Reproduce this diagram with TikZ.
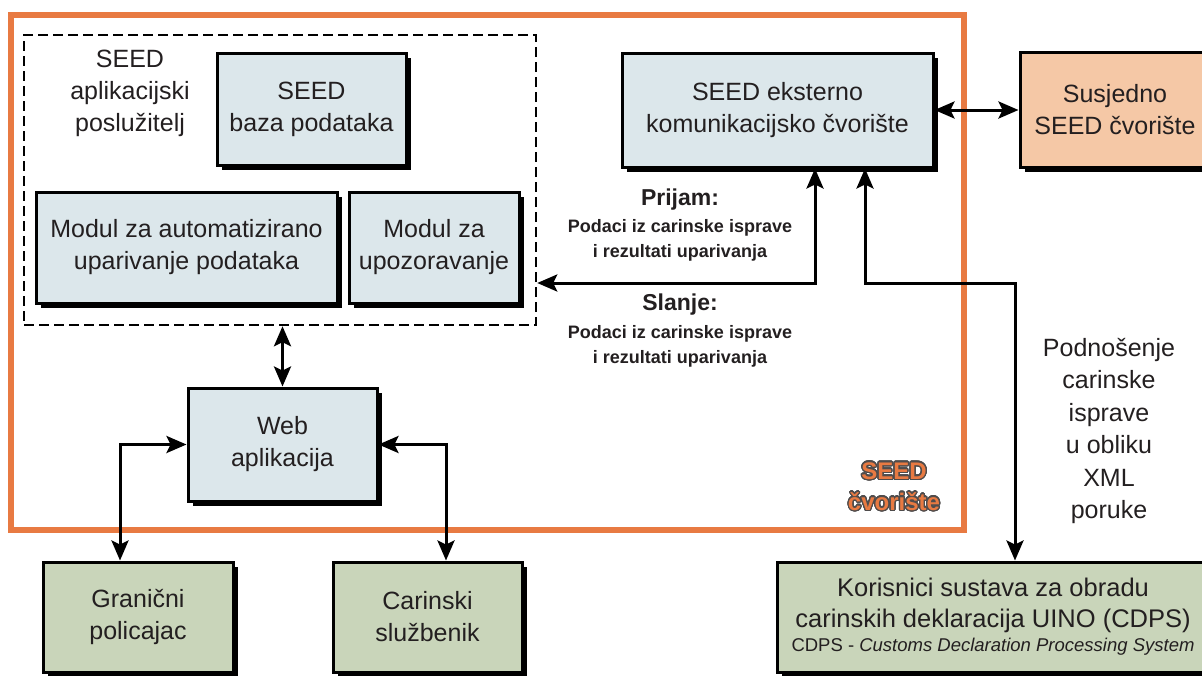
\documentclass[tikz,border=0pt]{standalone}
\usepackage{fontspec}
\setmainfont{Liberation Sans}
\usepackage{xcolor}
\usepackage{tikz}
\usepackage[copies]{contour}
\usetikzlibrary{shadows,arrows.meta}

\definecolor{plava}{HTML}{DCE7EB}
\definecolor{zelena}{HTML}{C9D5BA}
\definecolor{breskva}{HTML}{F5C8A6}
\definecolor{narancasta}{HTML}{E87A42}
\definecolor{tekst}{HTML}{231F20}

\tikzset{
  kutija/.style={draw=black, line width=3pt, inner sep=0pt, align=center, text=tekst,
    font=\fontsize{25}{32}\selectfont,
    drop shadow={shadow xshift=4.5pt, shadow yshift=-4.5pt, fill=black, opacity=1}},
  oznaka/.style={align=center, text=tekst, inner sep=0pt, font=\fontsize{25}{32}\selectfont},
  podoznaka/.style={align=center, text=tekst, inner sep=0pt, font=\fontsize{18}{25}\selectfont\bfseries},
  veza/.style={line width=3pt, draw=black, {Stealth[length=20pt,width=17pt,inset=4pt]}-{Stealth[length=20pt,width=17pt,inset=4pt]}},
}
\contourlength{1.2pt}
\contournumber{32}

\begin{document}
\begin{tikzpicture}[x=1pt, y=-1pt]
    \useasboundingbox (0,0) rectangle (1202,675);
    \clip (0,0) rectangle (1202,675);

    % Okvir SEED cvorista
    \draw[narancasta, line width=6pt] (11,15) rectangle (964,530);
    \node[font=\fontsize{24}{31}\selectfont\bfseries, align=center, inner sep=0pt] (naslov) at (894,487)
        {\contour{tekst!80}{\textcolor{narancasta}{SEED}}\\\contour{tekst!80}{\textcolor{narancasta}{čvorište}}};

    % Aplikacijski posluzitelj
    \node[draw=black, line width=2.5pt, dash pattern=on 10pt off 5pt, minimum width=512pt, minimum height=290pt] (posluzitelj) at (280,180) {};
    \node[oznaka] (posluziteljtxt) at (130,93) {SEED\\aplikacijski\\poslužitelj};
    \node[kutija, fill=plava, minimum width=189pt, minimum height=112pt] (baza) at (311.5,109) {SEED\\baza podataka};
    \node[kutija, fill=plava, minimum width=301pt, minimum height=111pt] (uparivanje) at (186.5,247.5) {Modul za automatizirano\\uparivanje podataka};
    \node[kutija, fill=plava, minimum width=170pt, minimum height=111pt] (upozoravanje) at (434,247.5) {Modul za\\upozoravanje};

    % Komunikacija
    \node[kutija, fill=plava, minimum width=311pt, minimum height=114pt] (komunikacija) at (777.5,110) {SEED eksterno\\komunikacijsko čvorište};
    \node[kutija, fill=breskva, minimum width=190pt, minimum height=115pt] (susjedno) at (1115,110) {Susjedno\\SEED čvorište};
    \node[oznaka, font=\fontsize{23}{28}\selectfont\bfseries] (prijam) at (680,200) {Prijam:};
    \node[podoznaka] (prijamtxt) at (680,240) {Podaci iz carinske isprave\\i rezultati uparivanja};
    \node[oznaka, font=\fontsize{23}{28}\selectfont\bfseries] (slanje) at (680,305) {Slanje:};
    \node[podoznaka] (slanjetxt) at (680,346) {Podaci iz carinske isprave\\i rezultati uparivanja};

    % Web aplikacija i korisnici
    \node[kutija, fill=plava, minimum width=189pt, minimum height=113pt] (web) at (282.5,444.5) {Web\\aplikacija};
    \node[kutija, fill=zelena, minimum width=190pt, minimum height=110pt] (granicni) at (138,617) {Granični\\policajac};
    \node[kutija, fill=zelena, minimum width=189pt, minimum height=110pt] (carinski) at (427.5,617) {Carinski\\službenik};
    \node[kutija, fill=zelena, minimum width=432pt, minimum height=110pt, font=\fontsize{25.5}{31}\selectfont] (cdps) at (993,617)
        {Korisnici sustava za obradu\\carinskih deklaracija UINO (CDPS)\\[-7pt]{\fontsize{18.5}{22}\selectfont CDPS - \textit{Customs Declaration Processing System}}};
    \node[oznaka, font=\fontsize{25}{32.4}\selectfont] (podnosenje) at (1109,431) {Podnošenje\\carinske\\isprave\\u obliku\\XML\\poruke};

    % Veze
    \coordinate (skretanje) at (1015,283);
    \draw[veza] (komunikacija.east) -- (susjedno.west);
    \draw[veza] ([xshift=37.5pt]komunikacija.south) |- (posluzitelj.east |- 0,283);
    \draw[veza] ([xshift=87.5pt]komunikacija.south) |- (skretanje) -- (skretanje |- cdps.north);
    \draw[veza] (posluzitelj.south -| web.north) -- (web.north);
    \draw[veza] (web.west) -| ([xshift=-18pt]granicni.north);
    \draw[veza] (web.east) -| ([xshift=18.5pt]carinski.north);
\end{tikzpicture}
\end{document}
